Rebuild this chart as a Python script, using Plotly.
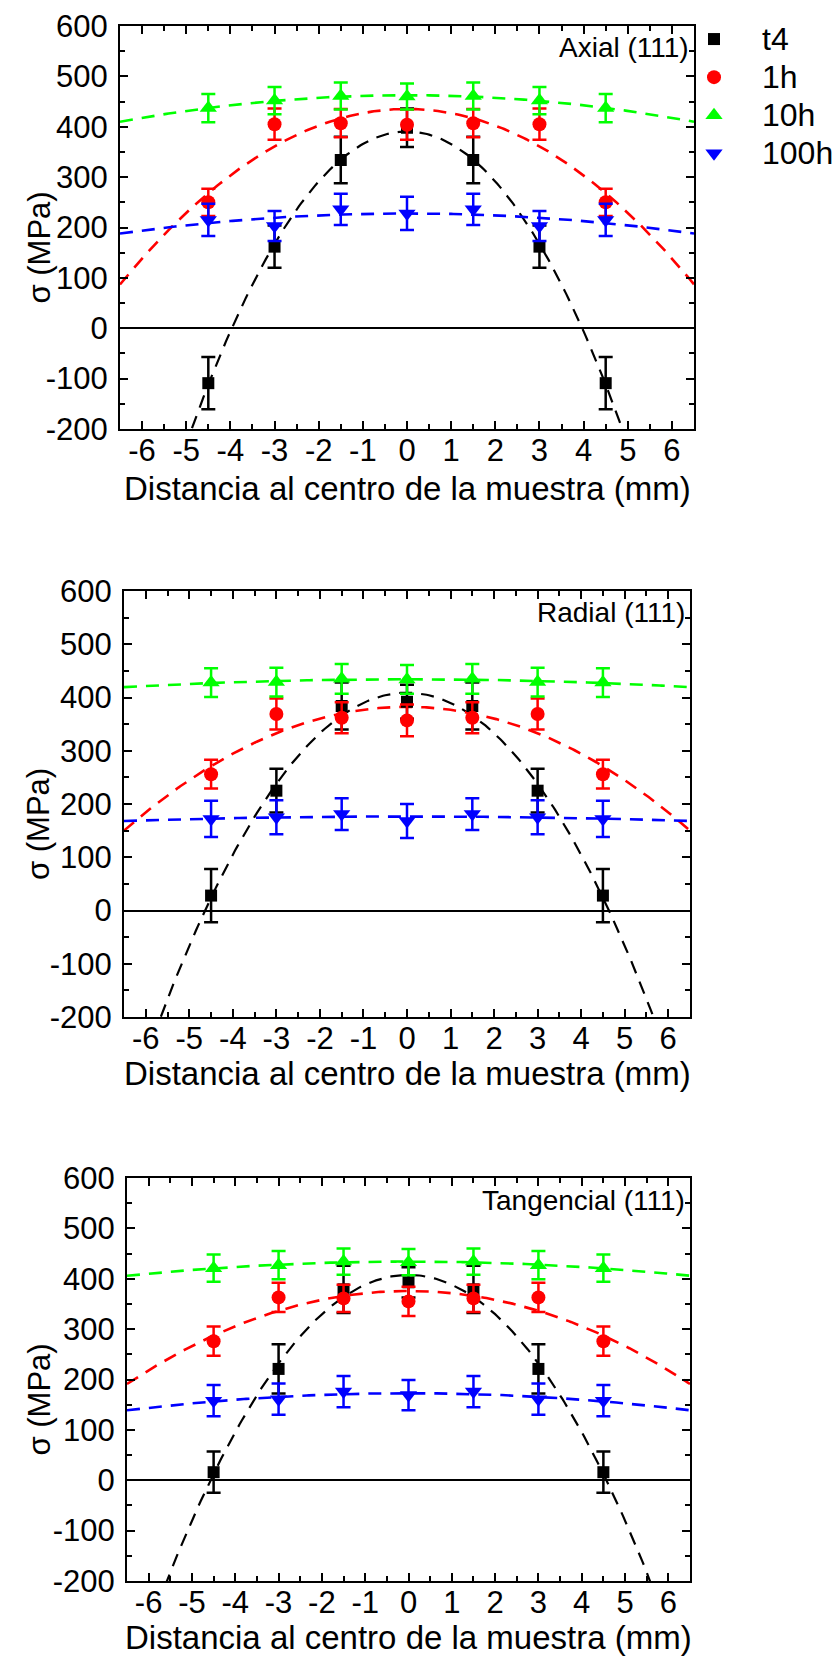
import numpy as np
import plotly.graph_objects as go

# Sample positions (mm from the centre of the specimen)
distance_mm = [-4.5, -3.0, -1.5, 0.0, 1.5, 3.0, 4.5]

# Axial (111) residual stress, MPa
axial_t4 = [-109, 162, 334, 398, 334, 162, -109]
axial_t4_err = [52, 42, 46, 38, 46, 42, 52]
axial_1h = [250, 405, 407, 404, 407, 405, 250]
axial_1h_err = [27, 31, 28, 30, 28, 31, 27]
axial_10h = [437, 452, 461, 460, 461, 452, 437]
axial_10h_err = [28, 27, 27, 26, 27, 27, 28]
axial_100h = [215, 203, 236, 228, 236, 203, 215]
axial_100h_err = [32, 30, 31, 33, 31, 30, 32]

# Radial (111)
radial_t4 = [28, 225, 384, 392, 384, 225, 28]
radial_t4_err = [50, 41, 44, 32, 44, 41, 50]
radial_1h = [256, 369, 362, 357, 362, 369, 256]
radial_1h_err = [27, 29, 29, 30, 29, 29, 27]
radial_10h = [428, 429, 435, 434, 435, 429, 428]
radial_10h_err = [27, 27, 28, 27, 28, 27, 27]
radial_100h = [172, 175, 181, 168, 181, 175, 172]
radial_100h_err = [34, 32, 30, 32, 30, 32, 34]

# Tangencial (111)
tang_t4 = [16, 221, 379, 393, 379, 221, 16]
tang_t4_err = [41, 49, 47, 30, 47, 49, 41]
tang_1h = [276, 363, 361, 355, 361, 363, 276]
tang_1h_err = [29, 29, 27, 29, 27, 29, 29]
tang_10h = [421, 427, 434, 433, 434, 427, 421]
tang_10h_err = [27, 28, 26, 26, 26, 28, 27]
tang_100h = [158, 161, 176, 169, 176, 161, 158]
tang_100h_err = [31, 31, 31, 30, 31, 31, 31]

series_names = ["t4", "1h", "10h", "100h"]
series_colors = ["#000000", "#FF0000", "#00FF00", "#0000FF"]
series_symbols = ["square", "circle", "triangle-up", "triangle-down"]
series_sizes = [12, 14, 15, 15]

panel_titles = ["Axial (111)", "Radial (111)", "Tangencial (111)"]

x_ticks = [-6, -5, -4, -3, -2, -1, 0, 1, 2, 3, 4, 5, 6]
x_tick_text = ["-6", "-5", "-4", "-3", "-2", "-1", "0", "1", "2", "3", "4", "5", "6"]
y_ticks = [-200, -100, 0, 100, 200, 300, 400, 500, 600]
y_tick_text = ["-200", "-100", "0", "100", "200", "300", "400", "500", "600"]

x_label = "Distancia al centro de la muestra (mm)"
y_label = "σ (MPa)"

panels = [
    [(axial_t4, axial_t4_err), (axial_1h, axial_1h_err),
     (axial_10h, axial_10h_err), (axial_100h, axial_100h_err)],
    [(radial_t4, radial_t4_err), (radial_1h, radial_1h_err),
     (radial_10h, radial_10h_err), (radial_100h, radial_100h_err)],
    [(tang_t4, tang_t4_err), (tang_1h, tang_1h_err),
     (tang_10h, tang_10h_err), (tang_100h, tang_100h_err)],
]

W, H = 840, 1657
# subplot frames in pixels: (left, right, top, bottom)
frames = [(120, 694, 26, 429), (124, 690, 591, 1017), (127, 690, 1178, 1581)]
# vertical offset of the x-axis title below each frame
xtitle_gap = [60, 56, 56]

FONT = "Liberation Sans, Arial, sans-serif"
fig = go.Figure()
x_fit = np.linspace(-6.5, 6.5, 261)

for p, series in enumerate(panels):
    xa = "x" if p == 0 else f"x{p + 1}"
    ya = "y" if p == 0 else f"y{p + 1}"
    # least-squares parabola through each series
    for (vals, _), col in zip(series, series_colors):
        coef = np.polyfit(distance_mm, vals, 2)
        fig.add_trace(go.Scatter(
            x=x_fit, y=np.polyval(coef, x_fit), mode="lines",
            line=dict(color=col, width=2.2 if col == "#000000" else 2.6,
                      dash="13px,9px"),
            xaxis=xa, yaxis=ya, showlegend=False, hoverinfo="skip"))
    for (vals, err), name, col, sym, sz in zip(series, series_names, series_colors,
                                                 series_symbols, series_sizes):
        fig.add_trace(go.Scatter(
            x=distance_mm, y=vals, mode="markers",
            name=f'<span style="font-size:32px">{name}</span>',
            marker=dict(symbol=sym, size=sz, color=col, line=dict(width=0)),
            error_y=dict(type="data", array=err, color=col, thickness=2.5, width=7),
            xaxis=xa, yaxis=ya, showlegend=(p == 0)))

layout_axes = {}
annotations = []
for p, (l, r, t, b) in enumerate(frames):
    suffix = "" if p == 0 else str(p + 1)
    xdom = [l / W, r / W]
    ydom = [1 - b / H, 1 - t / H]
    common = dict(showline=True, linewidth=2, linecolor="black", mirror="ticks",
                  ticks="inside", ticklen=8, tickwidth=2, tickcolor="black",
                  showgrid=False, tickfont=dict(size=31, color="black", family=FONT))
    layout_axes["xaxis" + suffix] = dict(
        common, domain=xdom, anchor="y" + suffix, range=[-6.5, 6.5],
        tickmode="array", tickvals=x_ticks, ticktext=x_tick_text, zeroline=False,
        ticklabelstandoff=-7,
        minor=dict(dtick=0.5, tick0=0, ticks="inside", ticklen=5, tickwidth=2,
                   tickcolor="black", showgrid=False))
    layout_axes["yaxis" + suffix] = dict(
        common, domain=ydom, anchor="x" + suffix, range=[-200, 600],
        tickmode="array", tickvals=y_ticks, ticktext=y_tick_text,
        zeroline=True, zerolinecolor="black", zerolinewidth=2,
        ticklabelstandoff=4,
        minor=dict(dtick=50, tick0=0, ticks="inside", ticklen=5, tickwidth=2,
                   tickcolor="black", showgrid=False))
    # panel label in the upper-right corner
    annotations.append(dict(text=panel_titles[p], xref="paper", yref="paper",
                            x=(r - 3) / W, y=1 - (t + 22) / H, xanchor="right",
                            yanchor="middle", showarrow=False,
                            font=dict(size=28, color="black", family=FONT)))
    # axis titles
    annotations.append(dict(text=x_label, xref="paper", yref="paper",
                            x=(l + r) / 2 / W, y=1 - (b + xtitle_gap[p]) / H,
                            xanchor="center", yanchor="middle", showarrow=False,
                            font=dict(size=33, color="black", family=FONT)))
    annotations.append(dict(text=y_label, xref="paper", yref="paper",
                            x=39 / W, y=1 - ((t + b) / 2 + 20) / H, xanchor="center",
                            yanchor="middle", showarrow=False, textangle=-90,
                            font=dict(size=31, color="black", family=FONT)))

fig.update_layout(
    width=W, height=H,
    margin=dict(l=0, r=0, t=0, b=0, autoexpand=False),
    paper_bgcolor="white", plot_bgcolor="white",
    font=dict(family=FONT, color="black"),
    legend=dict(x=666 / W, y=1 - 15 / H, xanchor="left", yanchor="top",
                font=dict(size=27, family=FONT, color="black"),
                bgcolor="rgba(0,0,0,0)", itemwidth=86, tracegroupgap=0),
    annotations=annotations,
    **layout_axes,
)

fig.write_html("out.html")
